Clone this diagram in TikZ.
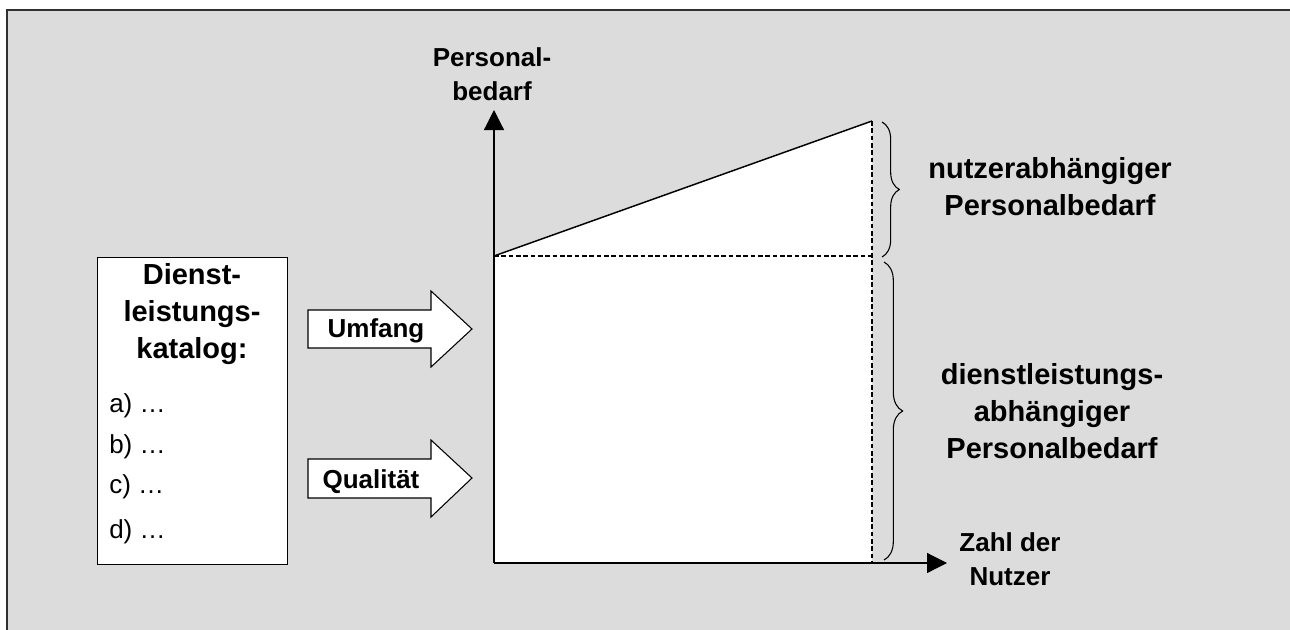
\documentclass[tikz,border=0pt]{standalone}
\usepackage{fontspec}
\setmainfont{Liberation Sans}
\usetikzlibrary{arrows.meta,positioning,decorations.pathreplacing}

\definecolor{bggray}{HTML}{DCDCDC}
\definecolor{framegray}{HTML}{303030}

\tikzset{
  axis/.style={line width=0.9pt, -{Triangle[width=15pt,length=15pt]}},
  bigarrow/.style={draw, fill=white, line width=0.8pt},
  helpline/.style={dash pattern=on 3.5pt off 2pt, line width=0.8pt},
  heading/.style={font=\fontsize{21.75}{27.5}\selectfont\bfseries, align=center, inner sep=0pt},
  label/.style={font=\fontsize{19.5}{25}\selectfont\bfseries, align=center, inner sep=0pt},
  listitem/.style={font=\fontsize{19.5}{25}\selectfont, anchor=base west, inner sep=0pt},
  bracket/.style={decorate, decoration={brace, amplitude=#1}, line width=0.8pt},
}

\begin{document}
\begin{tikzpicture}[x=0.75pt, y=-0.75pt]
    \clip (0,0) rectangle (1290,629);
    % background frame
    \draw[framegray, line width=1.4pt, fill=bggray] (7,10) rectangle (1310,650);

    % catalogue box
    \node[draw, fill=white, line width=0.9pt, minimum width=142.5pt, minimum height=230pt,
          inner sep=0pt, anchor=north west] (katalog) at (97,257) {};
    \node[heading, anchor=base] (katalogtitel) at (192,358) {Dienst-\\leistungs-\\katalog:};
    \foreach \name/\y in {a/412, b/453, c/493, d/538} {
      \node[listitem] (item\name) at (109,\y) {\name) …};
    }

    % input arrows
    \draw[bigarrow] (308,310) -- (431,310) -- (431,291) -- (472,329)
      -- (431,367) -- (431,348) -- (308,348) -- cycle;
    \draw[bigarrow] (308,459) -- (431,459) -- (431,440) -- (472,478)
      -- (431,517) -- (431,498) -- (308,498) -- cycle;
    \node[label, anchor=base] (umfang) at (376,337) {Umfang};
    \node[label, anchor=base] (qualitaet) at (371,488) {Qualität};

    % diagram
    \coordinate (origin) at (494,563);
    \coordinate (ytip) at (494,110);
    \coordinate (xtip) at (947,563);
    \coordinate (sockel) at (494,256);
    \coordinate (spitze) at (872,121);
    \coordinate (rechts) at (872,563);
    \fill[white] (origin) -- (sockel) -- (spitze) -- (rechts) -- cycle;
    \draw[helpline] (sockel) -- (sockel -| rechts);
    \draw[helpline] (spitze) -- (rechts);
    \draw[line width=1.1pt] (sockel) -- (spitze);
    \draw[axis] (origin) -- (ytip);
    \draw[axis] (origin) -- (xtip);

    \node[label, anchor=base] (yachse) at (492,100) {Personal-\\bedarf};
    \node[label, anchor=base] (xachse) at (1010,585) {Zahl der\\Nutzer};

    % braces
    \draw[bracket=13pt] (882,122) -- (882,257);
    \draw[bracket=14pt] (884,262) -- (884,560);
    \node[heading, anchor=base] (nutzer) at (1050,215) {nutzerabhängiger\\Personalbedarf};
    \node[heading, anchor=base] (dienst) at (1052,458) {dienstleistungs-\\abhängiger\\Personalbedarf};
\end{tikzpicture}
\end{document}
